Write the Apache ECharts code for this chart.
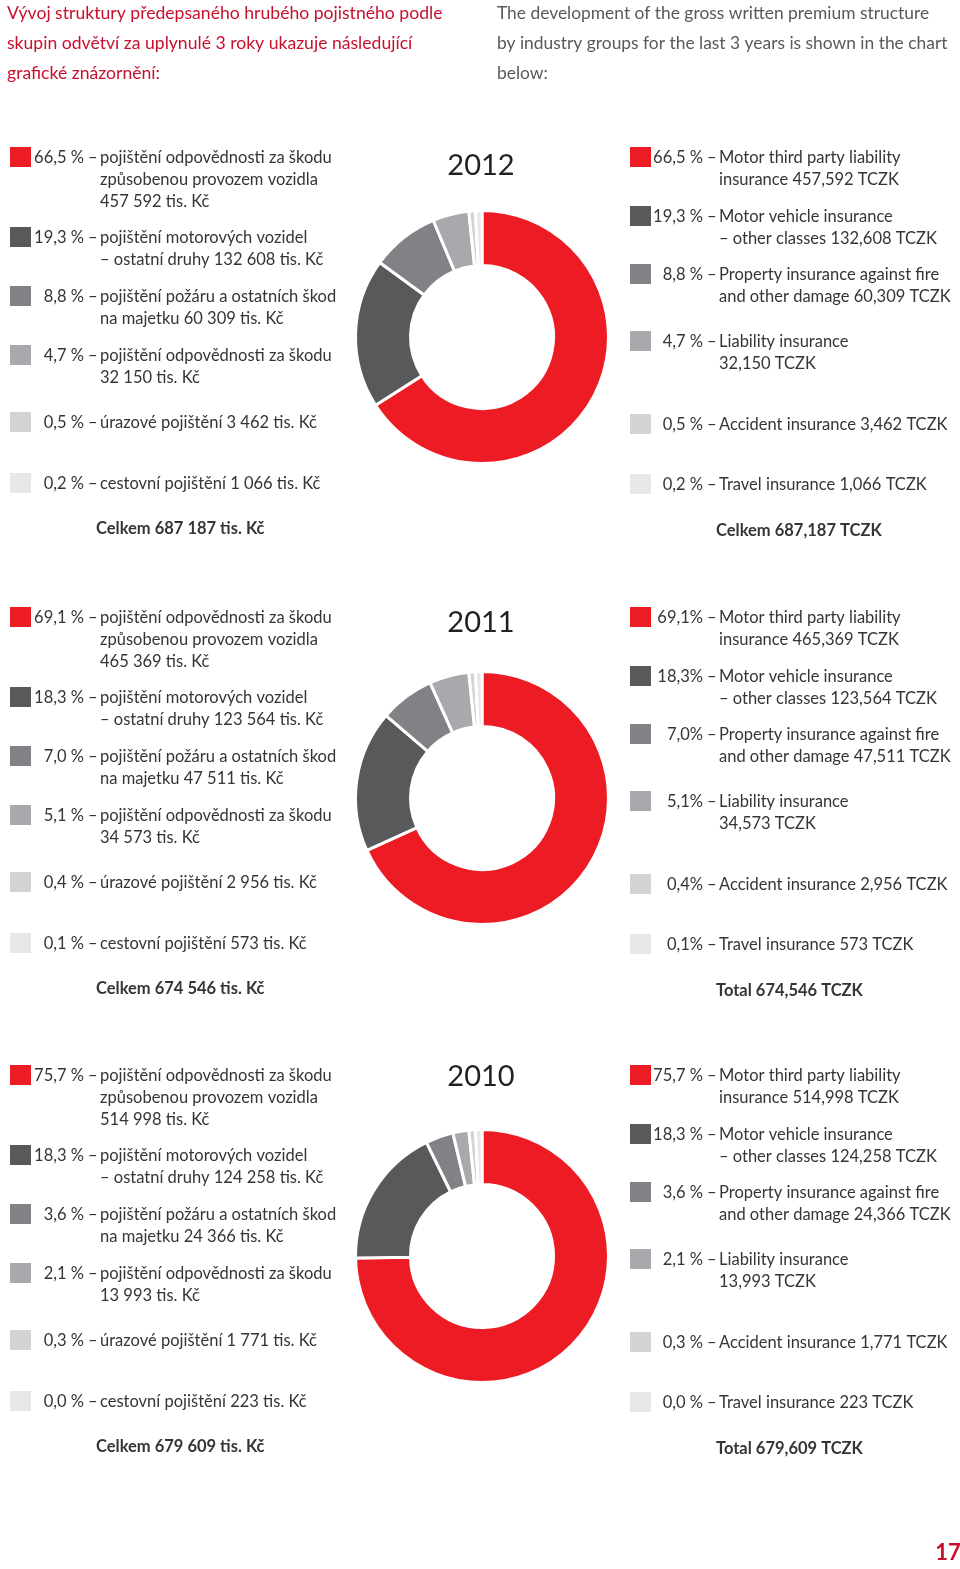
<!DOCTYPE html>
<html><head><meta charset="utf-8">
<script src="https://cdn.jsdelivr.net/npm/echarts@6/dist/echarts.min.js"></script>
<style>html,body{margin:0;padding:0;background:#fff}#c{width:960px;height:1569px}</style>
</head><body><div id="c"></div>
<script>
// ---- data ----
const years = ['2012', '2011', '2010'];
const categoriesCz = ['pojištění odpovědnosti za škodu způsobenou provozem vozidla', 'pojištění motorových vozidel – ostatní druhy', 'pojištění požáru a ostatních škod na majetku', 'pojištění odpovědnosti za škodu', 'úrazové pojištění', 'cestovní pojištění'];
const categoriesEn = ['Motor third party liability insurance', 'Motor vehicle insurance – other classes', 'Property insurance against fire and other damage', 'Liability insurance', 'Accident insurance', 'Travel insurance'];
const values2012 = [457592, 132608, 60309, 32150, 3462, 1066];
const values2011 = [465369, 123564, 47511, 34573, 2956, 573];
const values2010 = [514998, 124258, 24366, 13993, 1771, 223];
const pct2012 = ['66,5', '19,3', '8,8', '4,7', '0,5', '0,2'];
const pct2011 = ['69,1', '18,3', '7,0', '5,1', '0,4', '0,1'];
const pct2010 = ['75,7', '18,3', '3,6', '2,1', '0,3', '0,0'];
const totals = [687187, 674546, 679609];
const totalWordEn = ['Celkem', 'Total', 'Total'];
const pctSpaceEn = [' ', '', ' '];

const valuesByYear = [values2012, values2011, values2010];
const pctByYear = [pct2012, pct2011, pct2010];
const colors = ['#ed1c24', '#58595b', '#808285', '#a7a9ac', '#d1d3d4', '#e6e7e8'];

// line templates ({v} = formatted value)
const czLines = [
  ['pojištění odpovědnosti za škodu', 'způsobenou provozem vozidla', '{v} tis. Kč'],
  ['pojištění motorových vozidel', '– ostatní druhy {v} tis. Kč'],
  ['pojištění požáru a ostatních škod', 'na majetku {v} tis. Kč'],
  ['pojištění odpovědnosti za škodu', '{v} tis. Kč'],
  ['úrazové pojištění {v} tis. Kč'],
  ['cestovní pojištění {v} tis. Kč']
];
const enLines = [
  ['Motor third party liability', 'insurance {v} TCZK'],
  ['Motor vehicle insurance', '– other classes {v} TCZK'],
  ['Property insurance against fire', 'and other damage {v} TCZK'],
  ['Liability insurance', '{v} TCZK'],
  ['Accident insurance {v} TCZK'],
  ['Travel insurance {v} TCZK']
];

function fmtCz(n) { return String(n).replace(/\B(?=(\d{3})+(?!\d))/g, ' '); }
function fmtEn(n) { return String(n).replace(/\B(?=(\d{3})+(?!\d))/g, ','); }

// ---- layout ----
const FONT = 'Lato';
const TXT = '#353537';
const blockTop = [157, 617, 1075];
const titleY = [166, 623, 1077];
const pieCY = [337, 798, 1256];
const leftRowOff = [0, 80, 139, 198, 265, 326];
const rightRowOff = [0, 59, 117, 184, 267, 327];
const LH = 22;
const BODY = 16.5;

const chart = echarts.init(document.getElementById('c'), null, { renderer: 'canvas' });
const graphics = [];
function txt(x, y, s, o) {
  o = o || {};
  graphics.push({
    type: 'text', x: x, y: y, silent: true,
    style: {
      text: s, fill: o.fill || TXT,
      font: (o.weight || 'normal') + ' ' + (o.size || BODY) + 'px ' + FONT,
      textAlign: o.align || 'left', textVerticalAlign: 'middle', verticalAlign: 'middle'
    }
  });
}
function rect(x, y, w, h, c) {
  graphics.push({ type: 'rect', silent: true, shape: { x: x, y: y, width: w, height: h }, style: { fill: c } });
}

// header
const hdrCz = ['Vývoj struktury předepsaného hrubého pojistného podle', 'skupin odvětví za uplynulé 3 roky ukazuje následující', 'grafické znázornění:'];
const hdrEn = ['The development of the gross written premium structure', 'by industry groups for the last 3 years is shown in the chart', 'below:'];
hdrCz.forEach((s, i) => txt(7, 13 + i * 30, s, { fill: '#c8102e', size: 17.6 }));
hdrEn.forEach((s, i) => txt(497, 13 + i * 30, s, { fill: '#58595b', size: 17.4 }));

const series = [];
years.forEach((yr, k) => {
  const vals = valuesByYear[k], pcts = pctByYear[k], top = blockTop[k];
  txt(481, titleY[k], yr, { fill: '#231f20', size: 29, align: 'center' });
  for (let i = 0; i < 6; i++) {
    // left (Czech)
    const yl = top + leftRowOff[i] + 1;
    rect(10, yl - 11, 21, 20, colors[i]);
    txt(84, yl, pcts[i] + ' %', { align: 'right' });
    txt(88, yl, '–');
    czLines[i].forEach((l, j) => txt(100, yl + j * LH, l.replace('{v}', fmtCz(vals[i]))));
    // right (English)
    const yr2 = top + rightRowOff[i] + 1;
    rect(630, yr2 - 11, 21, 20, colors[i]);
    txt(703, yr2, pcts[i] + pctSpaceEn[k] + '%', { align: 'right' });
    txt(707, yr2, '–');
    enLines[i].forEach((l, j) => txt(719, yr2 + j * LH, l.replace('{v}', fmtEn(vals[i]))));
  }
  txt(96, top + 372, 'Celkem ' + fmtCz(totals[k]) + ' tis. Kč', { weight: 'bold' });
  txt(716, top + 374, totalWordEn[k] + ' ' + fmtEn(totals[k]) + ' TCZK', { weight: 'bold' });

  series.push({
    type: 'pie', name: yr, center: [482, pieCY[k]], radius: [71.5, 126.5],
    startAngle: 90, clockwise: true, minAngle: 3, avoidLabelOverlap: false,
    silent: true, label: { show: false }, labelLine: { show: false },
    itemStyle: { borderColor: '#ffffff', borderWidth: 3 },
    data: vals.map((v, i) => ({ name: categoriesEn[i], value: v, itemStyle: { color: colors[i] } }))
  });
});

txt(948, 1553, '17', { fill: '#c8102e', size: 22, weight: 'bold', align: 'center' });

chart.setOption({
  animation: false,
  backgroundColor: '#ffffff',
  series: series,
  graphic: { elements: graphics }
});
</script></body></html>
